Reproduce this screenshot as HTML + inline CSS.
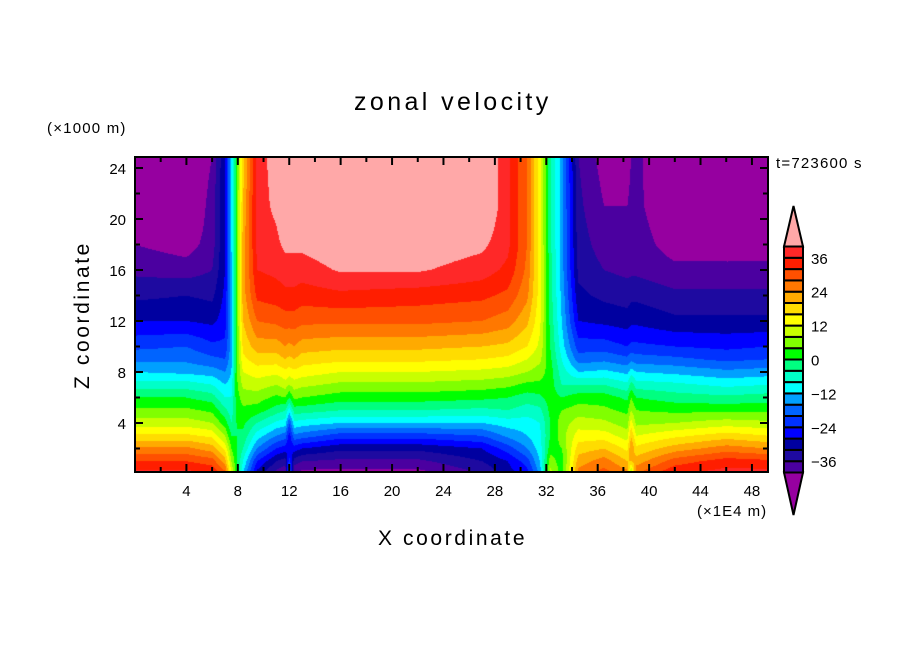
<!DOCTYPE html>
<html><head><meta charset="utf-8"><style>
body{margin:0;background:#fff;}
#root{position:relative;width:904px;height:654px;overflow:hidden;background:#fff;font-family:"Liberation Sans",sans-serif;color:#000;}
.t{position:absolute;white-space:nowrap;}
</style></head><body>
<div id="root">
<div class="t" style="left:354px;top:88px;font-size:25px;letter-spacing:3.4px;">zonal velocity</div>
<div class="t" style="left:47px;top:120px;font-size:15px;letter-spacing:1.2px;">(×1000 m)</div>
<div class="t" style="left:776px;top:155px;font-size:15px;letter-spacing:1.2px;">t=723600 s</div>
<div class="t" style="left:697px;top:503px;font-size:15px;letter-spacing:1px;">(×1E4 m)</div>
<div class="t" style="left:378px;top:527px;font-size:21px;letter-spacing:2.6px;">X coordinate</div>
<div class="t" style="left:83px;top:315px;font-size:21px;letter-spacing:2.6px;transform:translate(-50%,-50%) rotate(-90deg);">Z coordinate</div>
<canvas id="cv" width="633" height="316" style="position:absolute;left:135px;top:157px;"></canvas>
<svg id="sv" width="904" height="654" style="position:absolute;left:0;top:0;"></svg>
</div>
<script>
// ---- data ----
const xNodes=[0,4,6,7,7.5,7.9,8.4,9.5,11,11.7,12,12.4,13,16,22,27,29,30.5,31.5,32.3,33.2,34.5,36.5,38.3,38.6,39,42,46,49.3];
const zNodes=[0,1,2,3,4,5,6,7,8,9,10,12,14,16,18,21,25];
// each entry: profile of values at zNodes for a given xNode
const colProfiles=[
[38,32,25,17,10,5,0,-6,-12,-17,-21,-28,-33,-37,-40,-45,-46],
[38,32,25,17,10,5,0,-6,-13,-17,-20,-28,-32,-38,-42,-46,-46],
[36,30,22,15,8,3,-2,-8,-14,-19,-23,-29,-33,-36,-38,-38,-40],
[30,22,15,8,2,-3,-8,-12,-16,-20,-23,-26,-27,-28,-28,-28,-28],
[12,8,4,0,-4,-6,-8,-10,-12,-13,-14,-14,-14,-13,-12,-12,-12],
[2,1,0,0,0,1,2,3,3,3,3,3,3,3,3,3,3],
[-12,-8,-4,-1,1,3,6,9,12,15,17,20,22,22,22,20,18],
[-30,-24,-16,-10,-4,2,6,10,14,18,22,28,33,36,37,38,38],
[-38,-32,-24,-16,-9,-2,3,8,13,18,22,29,34,37,39,41,42],
[-40,-34,-26,-18,-10,-4,4,10,15,20,24,30,35,38,41,44,45],
[-10,-22,-28,-26,-20,-10,0,8,14,19,23,30,35,38,41,44,45],
[-40,-34,-26,-17,-9,-2,5,10,15,20,24,30,35,38,41,44,45],
[-42,-36,-28,-18,-10,-2,4,9,14,18,22,29,34,38,41,44,45],
[-42,-37,-31,-22,-12,-4,2,7,12,17,21,29,35,40.5,43,45,45],
[-42,-37,-31,-22,-12,-4,2,7,12,17,21,29,34,40.5,43,45,45],
[-36,-32,-28,-20,-12,-5,1,6,11,16,20,28,33,38,41,45,45],
[-30,-28,-22,-15,-10,-4,0,5,10,15,19,26,31,35,37,37,37],
[-26,-22,-16,-12,-10,-6,-2,3,8,12,16,21,25,27,28,28,28],
[-15,-12,-10,-9,-8,-5,-1,3,6,9,11,13,14,14,14,14,14],
[10,6,2,0,0,1,2,2,2,1,0,-1,-2,-2,-3,-3,-3],
[2,2,4,6,6,4,0,-4,-6,-8,-10,-12,-13,-14,-14,-14,-14],
[26,22,18,14,10,6,2,-4,-12,-18,-22,-28,-31,-33,-34,-35,-36],
[30,26,20,14,9,5,2,-4,-11,-17,-22,-29,-33,-36,-38,-40,-42],
[26,20,15,10,6,3,-1,-7,-13,-19,-24,-30,-34,-37,-38,-40,-42],
[4,20,24,20,14,8,4,-2,-10,-17,-23,-29,-33,-37,-38,-39,-40],
[28,22,17,12,7,4,0,-6,-12,-18,-23,-29,-33,-37,-38,-39,-39],
[36,30,22,15,8,3,-2,-7,-13,-19,-24,-31,-35,-39,-42,-44,-45],
[38,34,26,18,10,3,-3,-9,-15,-21,-25,-31,-35,-39,-42,-44,-45],
[38,33,24,16,9,3,-2,-8,-14,-20,-24,-31,-35,-39,-42,-45,-45]
];
const levels=[-40,-36,-32,-28,-24,-20,-16,-12,-8,-4,0,4,8,12,16,20,24,28,32,36,40];
const bandColors=["#4b00a0","#1e0aa0","#0000a0","#0000ff","#0032ff","#0064ff","#00a0ff","#00ffff","#00ffc8","#00ff80","#00ff00","#80ff00","#c8ff00","#ffff00","#ffdc00","#ffaa00","#ff7800","#ff5000","#ff1e00","#ff2828"];
const lowColor="#9600a0", highColor="#ffa8a8";
const xTicks=[4,8,12,16,20,24,28,32,36,40,44,48];
const zTicks=[4,8,12,16,20,24];
const cbLabels=[36,24,12,0,-12,-24,-36];
// ---- axes ----
const X0=135,X1=768,Y0=157,Y1=472;
const xMin=0,xMax=49.25;
const xPx=u=>X0+(u-xMin)/(xMax-xMin)*(X1-X0);
const zPx=z=>474-12.75*z;
const xInv=p=>xMin+(p-X0)/(X1-X0)*(xMax-xMin);
const zInv=p=>(474-p)/12.75;
function findIdx(arr,v){let i=0;while(i<arr.length-2&&v>arr[i+1])i++;return i;}
function sample(u,z){
  u=Math.max(xNodes[0],Math.min(xNodes[xNodes.length-1],u));
  z=Math.max(zNodes[0],Math.min(zNodes[zNodes.length-1],z));
  const i=findIdx(xNodes,u),j=findIdx(zNodes,z);
  const tx=(u-xNodes[i])/(xNodes[i+1]-xNodes[i]),tz=(z-zNodes[j])/(zNodes[j+1]-zNodes[j]);
  const a=colProfiles[i][j],b=colProfiles[i+1][j],c=colProfiles[i][j+1],d=colProfiles[i+1][j+1];
  return (a*(1-tx)+b*tx)*(1-tz)+(c*(1-tx)+d*tx)*tz;
}
function colorFor(v){
  if(v<levels[0])return lowColor;
  if(v>=levels[levels.length-1])return highColor;
  let k=Math.floor((v-levels[0])/4);k=Math.max(0,Math.min(bandColors.length-1,k));
  return bandColors[k];
}
const cv=document.getElementById('cv'),ctx=cv.getContext('2d');
for(let py=0;py<cv.height;py++){
  const z=zInv(Y0+py+0.5);
  let runStart=0,runCol=null;
  for(let px=0;px<=cv.width;px++){
    const col=px<cv.width?colorFor(sample(xInv(X0+px+0.5),z)):null;
    if(col!==runCol){ if(runCol){ctx.fillStyle=runCol;ctx.fillRect(runStart,py,px-runStart,1);} runCol=col;runStart=px;}
  }
}
const NS='http://www.w3.org/2000/svg',sv=document.getElementById('sv');
function mk(tag,attrs,parent){const e=document.createElementNS(NS,tag);for(const k in attrs)e.setAttribute(k,attrs[k]);(parent||sv).appendChild(e);return e;}
const frame=mk('rect',{x:X0,y:Y0,width:X1-X0,height:Y1-Y0,fill:'none',stroke:'#000','stroke-width':2});


for(let u=2;u<xMax;u+=2){
  const p=xPx(u),L=(u%4===0)?8:5;
  const t1=mk('line',{x1:p,y1:Y1,x2:p,y2:Y1-L,stroke:'#000','stroke-width':2});
  
  
  const t2=mk('line',{x1:p,y1:Y0,x2:p,y2:Y0+L,stroke:'#000','stroke-width':2});
  
  
}
for(let z=2;z<=24;z+=2){
  const p=zPx(z),L=(z%4===0)?8:5;
  const t1=mk('line',{x1:X0,y1:p,x2:X0+L,y2:p,stroke:'#000','stroke-width':2});
  
  
  const t2=mk('line',{x1:X1,y1:p,x2:X1-L,y2:p,stroke:'#000','stroke-width':2});
  
  
}
xTicks.forEach(v=>{
  const t=mk('text',{x:xPx(v),y:496,'text-anchor':'middle','font-size':15,'font-family':'Liberation Sans, sans-serif'});
  t.textContent=v;
  
  
});
zTicks.forEach(v=>{
  const t=mk('text',{x:126,y:zPx(v)+6,'text-anchor':'end','font-size':15,'font-family':'Liberation Sans, sans-serif'});
  t.textContent=v;
  
  
});
// colorbar
const cbX=784,cbW=19,cbTop=246.5,cbBot=472.5,boxH=(cbBot-cbTop)/bandColors.length;
const cbY=v=>cbBot-(v-levels[0])/(levels[levels.length-1]-levels[0])*(cbBot-cbTop);
const tri1=mk('polygon',{points:`${cbX},${cbTop} ${cbX+cbW},${cbTop} ${cbX+cbW/2},206`,fill:highColor,stroke:'#000','stroke-width':2});


const tri2=mk('polygon',{points:`${cbX},${cbBot} ${cbX+cbW},${cbBot} ${cbX+cbW/2},515`,fill:lowColor,stroke:'#000','stroke-width':2});


bandColors.forEach((c,k)=>{
  const r=mk('rect',{x:cbX,y:cbY(levels[k+1]),width:cbW,height:boxH,fill:c,stroke:'#000','stroke-width':2});
  
  
});
cbLabels.forEach(v=>{
  const t=mk('text',{x:811,y:cbY(v)+6,'font-size':15,'font-family':'Liberation Sans, sans-serif'});
  t.textContent=(v<0?'\u2212'+(-v):v);
  
  
});
</script>
</body></html>
